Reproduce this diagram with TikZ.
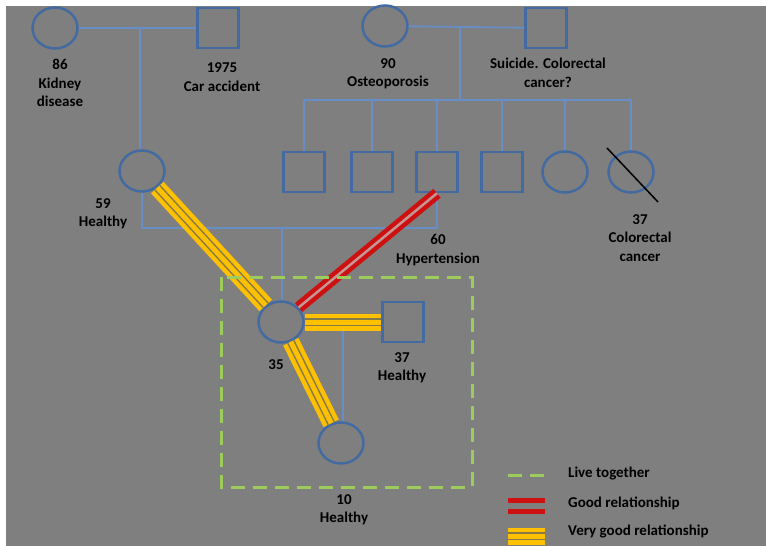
\documentclass[tikz,border=0pt]{standalone}
\usepackage{fontspec}
\setmainfont{Carlito}
\usepackage{xcolor}
\usepackage{tikz}
\usetikzlibrary{positioning, shapes.geometric, calc}

\definecolor{bggray}{RGB}{127,127,127}
\definecolor{pedblue}{RGB}{68,106,162}
\definecolor{kinblue}{RGB}{104,142,200}
\definecolor{relgold}{RGB}{255,192,0}
\definecolor{goldgap}{RGB}{132,122,72}
\definecolor{relred}{RGB}{205,16,16}
\definecolor{redgap}{RGB}{196,150,150}
\definecolor{livegreen}{RGB}{158,204,92}

\begin{document}
\begin{tikzpicture}[x=1pt, y=-1pt,
    male/.style={draw=pedblue, line width=2.5pt, rectangle, minimum width=41pt, minimum height=40pt, inner sep=0pt},
    female/.style={draw=pedblue, line width=2.5pt, ellipse, minimum width=45pt, minimum height=41pt, inner sep=0pt},
    kin/.style={draw=kinblue, line width=1.8pt},
    txt/.style={font=\bfseries\fontsize{15}{18.5}\selectfont, align=center, text=black, inner sep=0pt},
    good/.style={draw=redgap, line width=2.5pt, preaction={draw=relred, line width=11.5pt}},
    verygood/.style={draw=goldgap, line width=8pt, preaction={draw=relgold, line width=17pt}, postaction={draw=relgold, line width=5pt}},
    together/.style={draw=livegreen, line width=3pt, dash pattern=on 14pt off 8pt}]

  \useasboundingbox (0,0) rectangle (766,546);
  \fill[bggray] (6,6) rectangle (766,546);

  % grandparents
  \node[female] (gmL) at (55,28) {};
  \node[male] (gfL) at (218,28) {};
  \node[female] (gmR) at (385,26) {};
  \node[male] (gfR) at (546,28) {};

  % mother and the siblings of the father
  \node[female] (mo) at (142,171) {};
  \foreach \x [count=\i] in {304,372,437,502}
    \node[male] (c\i) at (\x,172) {};
  \node[female] (c5) at (565,172) {};
  \node[female] (c6) at (631,172) {};

  % index person, partner, child
  \node[female] (ego) at (281,322) {};
  \node[male] (sp) at (403,322) {};
  \node[female] (kid) at (341,443) {};

  % kinship lines
  \coordinate (dropL) at (140,28);
  \coordinate (dropR) at (460,28);
  \coordinate (sib) at (460,100);
  \coordinate (cpl) at (282,228);
  \coordinate (kiddrop) at (343,322);
  \draw[kin] (gmL) -- (gfL);
  \draw[kin] (dropL) -- (dropL |- mo.north);
  \draw[kin] (gmR) -- (gfR);
  \draw[kin] (dropR) -- (sib);
  \draw[kin] (c1 |- sib) -- (c6 |- sib);
  \foreach \i in {1,...,6}
    \draw[kin] (c\i |- sib) -- (c\i.north);
  \draw[kin] (mo.south) -- (mo |- cpl) -- (c3 |- cpl) -- (c3.south);
  \draw[kin] (cpl) -- (cpl |- ego.north);
  \draw[kin] (ego) -- (sp);
  \draw[kin] (kiddrop) -- (kiddrop |- kid.north);

  % relationships
  \draw[verygood] (mo) -- (ego);
  \draw[verygood] (ego) -- (sp);
  \draw[verygood] (ego) -- (kid);
  \draw[good] (ego) -- (c3.south);
  \draw[together] (221,277) rectangle (472,487);

  % deceased
  \draw[black, line width=1.5pt] ($(c6)+(-24,-24)$) -- ($(c6)+(27,30)$);

  % labels
  \node[txt] (tgmL) at (60,83) {86\\Kidney\\disease};
  \node[txt] (tgfL) at (222,77) {1975\\Car accident};
  \node[txt] (tgmR) at (388,74) {90\\Osteoporosis};
  \node[txt] (tgfR) at (548,73) {Suicide. Colorectal\\cancer?};
  \node[txt] (tmo) at (103,214) {59\\Healthy};
  \node[txt] (tc3) at (438,250) {60\\Hypertension};
  \node[txt] (tc6) at (640,238) {37\\Colorectal\\cancer};
  \node[txt] (tego) at (276,365) {35};
  \node[txt] (tsp) at (402,368) {37\\Healthy};
  \node[txt] (tkid) at (344,510) {10\\Healthy};

  % legend
  \draw[together] (508,475) -- (545,475);
  \draw[relred, line width=5pt] (508,500) -- (545,500);
  \draw[relred, line width=5pt] (508,511) -- (545,511);
  \draw[verygood] (508,536) -- (545,536);
  \node[txt, anchor=west] (lg1) at (568,474) {Live together};
  \node[txt, anchor=west] (lg2) at (568,503) {Good relationship};
  \node[txt, anchor=west] (lg3) at (568,531) {Very good relationship};
\end{tikzpicture}
\end{document}
